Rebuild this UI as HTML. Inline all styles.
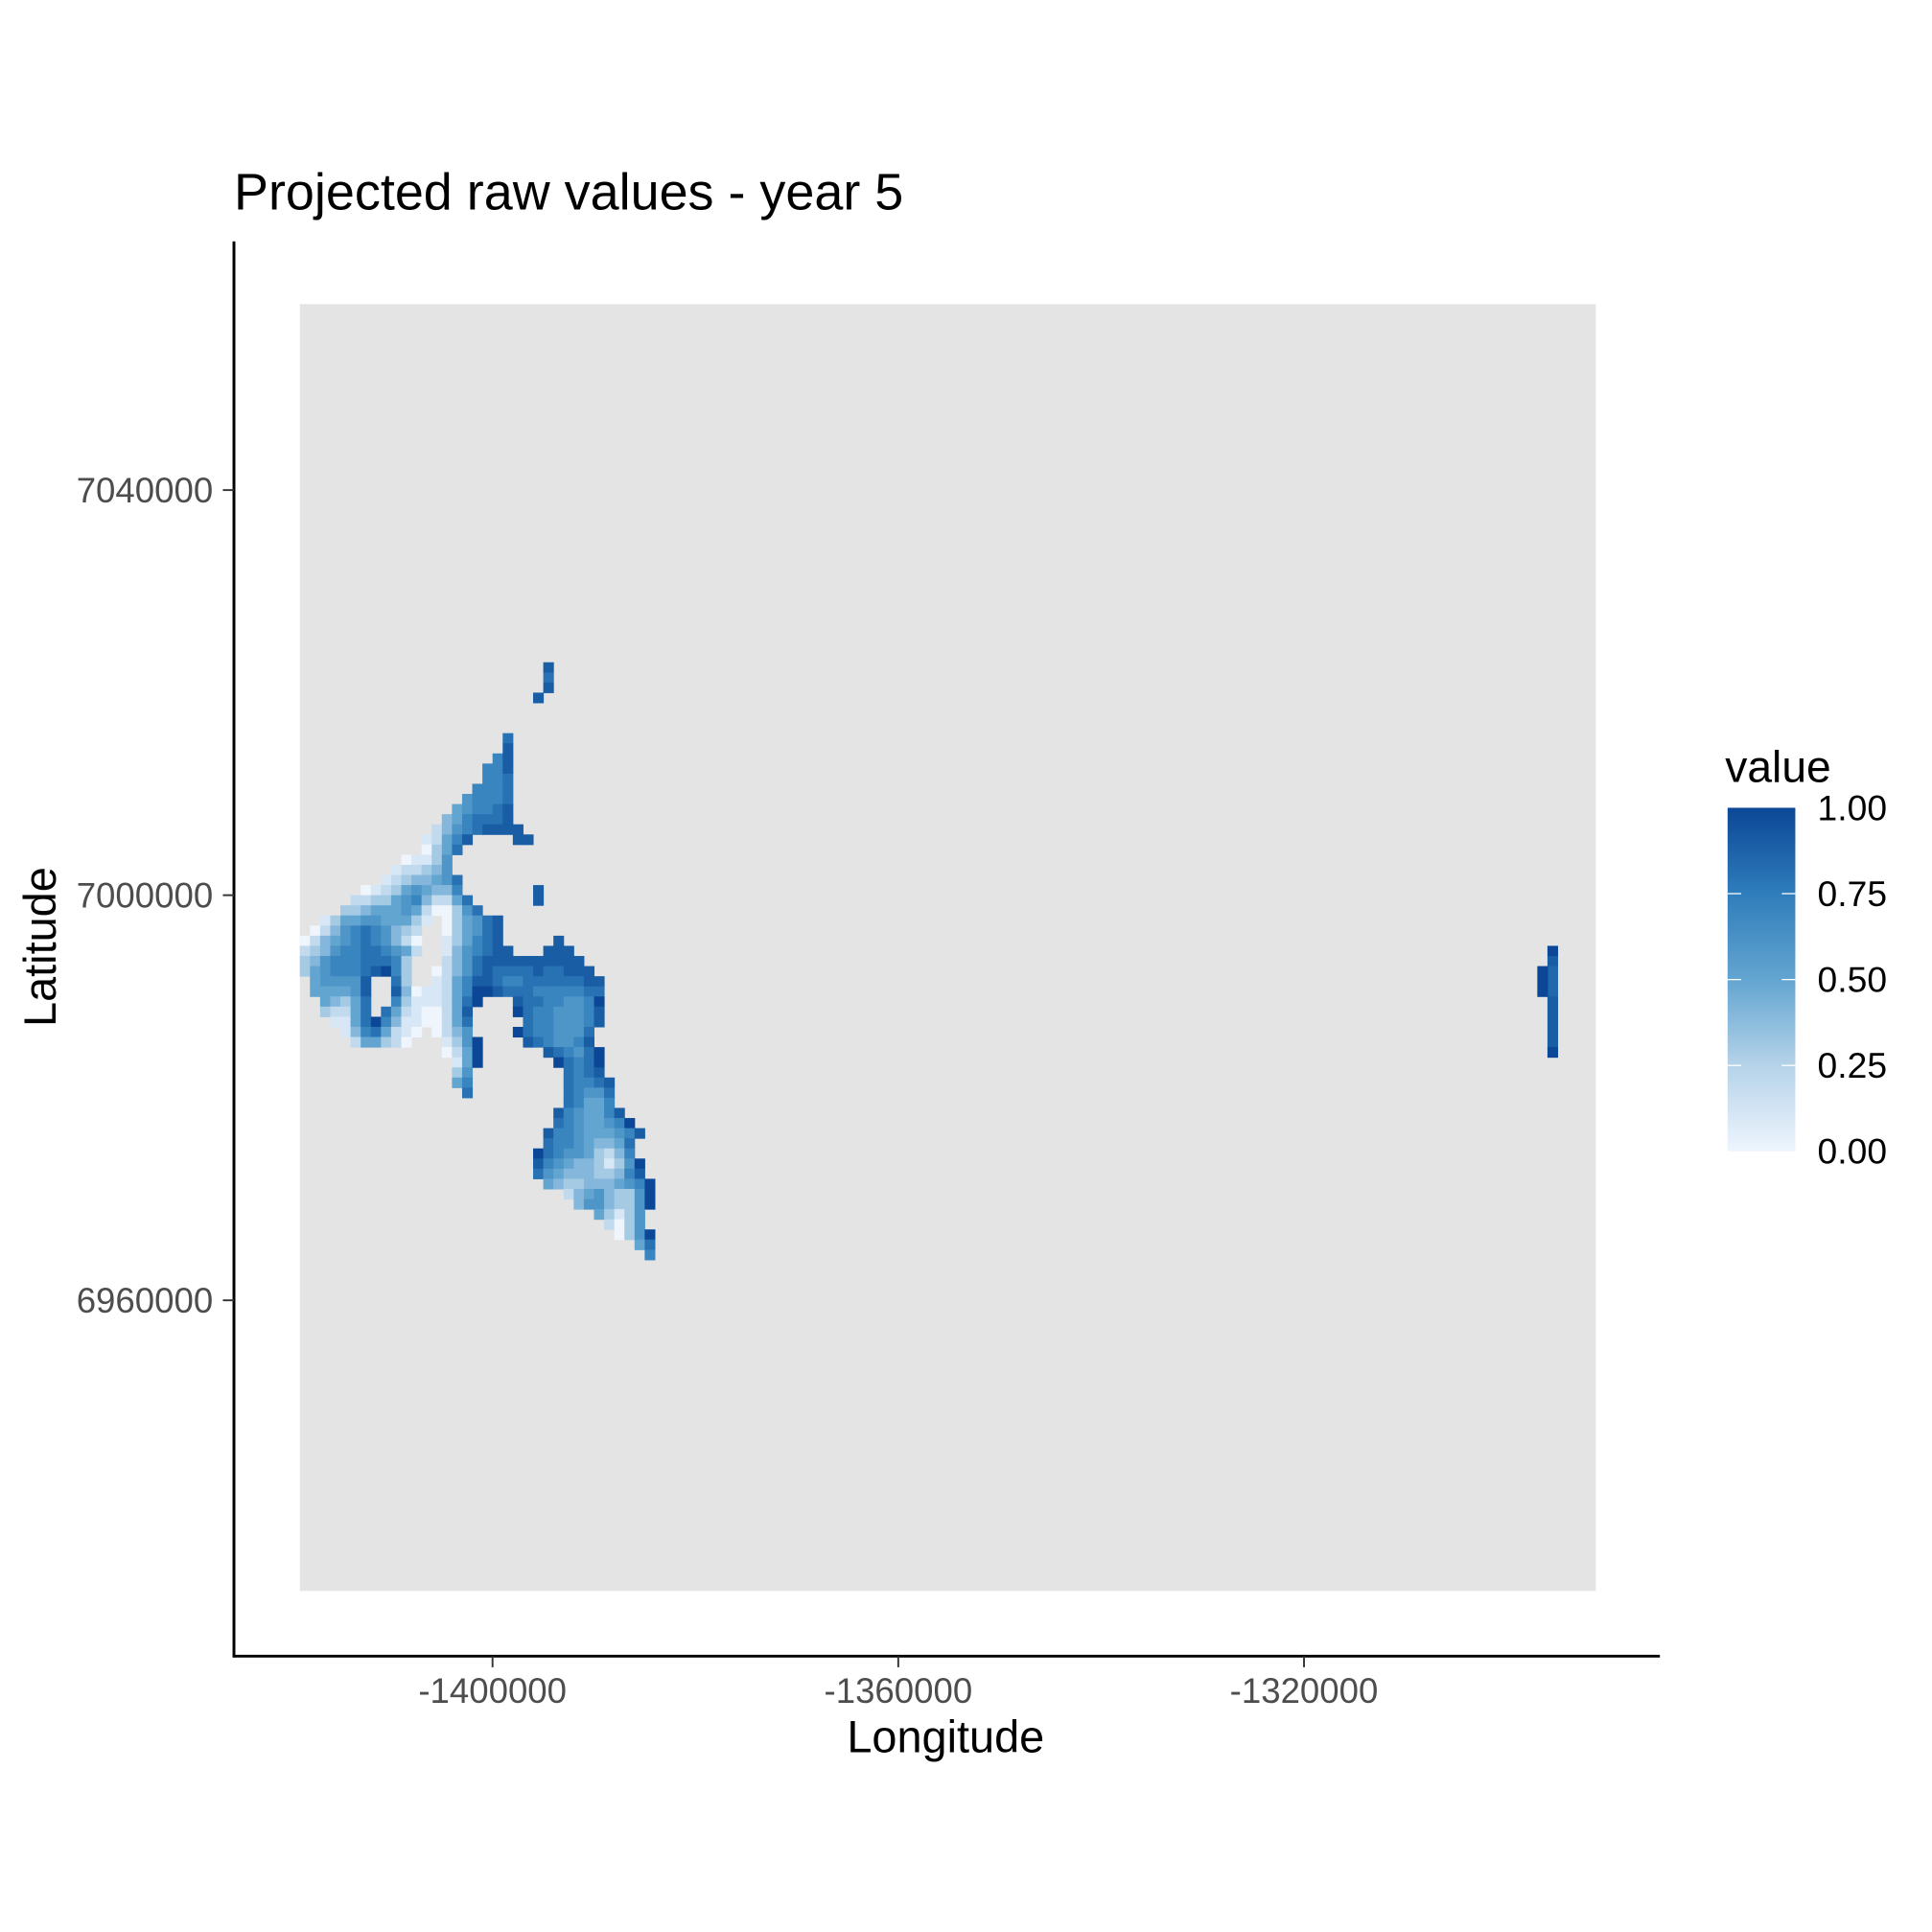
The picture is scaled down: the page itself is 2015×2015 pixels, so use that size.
<!DOCTYPE html>
<html><head><meta charset="utf-8"><style>
html,body{margin:0;padding:0;background:#fff}
svg{display:block}
text{font-family:"Liberation Sans",Arial,sans-serif}
</style></head><body>
<svg id="chart" width="2015" height="2015" viewBox="0 0 1569 1569" xmlns="http://www.w3.org/2000/svg">
<rect x="0" y="0" width="1569" height="1569" fill="#fff"/>
<text x="190" y="170" font-size="42" fill="#000">Projected raw values - year 5</text>
<rect x="243.5" y="247" width="1052.5" height="1045" fill="#e4e4e4"/>
<g id="cells"></g>
<g id="axes"></g>
<text x="768" y="1423" font-size="36.5" text-anchor="middle" fill="#000">Longitude</text>
<text transform="translate(45,769) rotate(-90)" font-size="36.5" text-anchor="middle" fill="#000">Latitude</text>
<defs><linearGradient id="lg" x1="0" y1="1" x2="0" y2="0">
<stop offset="0" stop-color="#EFF5FD"/><stop offset="0.25" stop-color="#B5D3E9"/><stop offset="0.5" stop-color="#63A5D1"/><stop offset="0.75" stop-color="#2F7DBB"/><stop offset="1" stop-color="#0B4796"/>
</linearGradient></defs>
<text x="1401" y="635" font-size="36" fill="#000">value</text>
<rect x="1403" y="656" width="55" height="279" fill="url(#lg)"/>
<g id="legend"></g>
</svg>
<script>
const xTicks = [-1400000, -1360000, -1320000];
const yTicks = [7040000, 7000000, 6960000];
const legendTicks = [0, 0.25, 0.5, 0.75, 1];
const gridX0 = -1419000;
const gridY0 = 7023000;
const cellSize = 1000;
const gridRows = [
"........................9","........................8","........................9",".......................9","","","",
"....................8","....................9","...................79","..................779","..................778",
".................7778","................67778","...............567789","..............4578889",
".............246789999","............12579....99","............0358","..........01136",".........122346",
"........12344568","......0123565447.......9",".....223356742258......9","....33455565200368",
"..13556655531.035689",".02467876432..035689","024567876420..135789.....9","234677887652..1467899...999",
"34677788873...24689999999999","35677789A73..0246898888988999",".566669..83..12579987788888899",
".555569..94011257AA98887777788","..54358..73111258A...98877667A","..32258.852100259....A87766679",
"...1158A741100258.....87766679","....14785210.0246....A8776668",".....255320...136A....9876679",
"..............025A......98768A","...............15A.......A878A","...............36.........8789",
"...............57.........87789","................8.........87668","..........................87557",
".........................9765579",".........................8765567A","........................9776555679",
"........................877654458",".......................A876653247",".......................9765443136A",
".......................86544433479","........................5433444567A","..........................24564336A",
"...........................4664336A",".............................53136","..............................2036",
"...............................036A",".................................58","..................................7"
];
const extraCols = [123,123,123,123,123,123,123,123,123,123,123,122,122,122];
const extraRows = [28,29,30,31,32,33,34,35,36,37,38,30,31,32];
const extraVals = [1.0,0.9,0.85,0.85,0.85,0.9,0.9,0.9,0.9,0.9,1.0,1.0,1.0,1.0];

const NS="http://www.w3.org/2000/svg";
const xS = v => 400 + (v + 1400000) * 0.0082375;
const yS = v => 727 - (v - 7000000) * 0.008225;
const stops=[[0,[239,245,253]],[0.25,[181,211,233]],[0.5,[99,165,209]],[0.75,[47,125,187]],[1,[11,71,150]]];
function col(v){v=Math.max(0,Math.min(1,v));for(let i=1;i<stops.length;i++){if(v<=stops[i][0]){const a=stops[i-1],b=stops[i],t=(v-a[0])/(b[0]-a[0]);return 'rgb('+a[1].map((c,k)=>Math.round(c+(b[1][k]-c)*t)).join(',')+')';}}return 'rgb(11,71,150)';}
const cellsG=document.getElementById('cells');
function addCell(c,r,v){
  const x1=xS(gridX0+c*cellSize), x2=xS(gridX0+(c+1)*cellSize);
  const y1=yS(gridY0-r*cellSize), y2=yS(gridY0-(r+1)*cellSize);
  const el=document.createElementNS(NS,'rect');
  el.setAttribute('x',x1);el.setAttribute('y',y1);
  el.setAttribute('width',x2-x1+0.4);el.setAttribute('height',y2-y1+0.4);
  el.setAttribute('fill',col(v));
  
  
  cellsG.appendChild(el);
}
gridRows.forEach((s,r)=>{for(let c=0;c<s.length;c++){const ch=s[c];if(ch==='.')continue;const v=ch==='A'?1:parseInt(ch,10)/10;addCell(c,r,v);}});
extraCols.forEach((c,i)=>addCell(c,extraRows[i],extraVals[i]));

const ax=document.getElementById('axes');
function line(x1,y1,x2,y2,w,color,name){const l=document.createElementNS(NS,'line');l.setAttribute('x1',x1);l.setAttribute('y1',y1);l.setAttribute('x2',x2);l.setAttribute('y2',y2);l.setAttribute('stroke',color);l.setAttribute('stroke-width',w);


ax.appendChild(l);}
function txt(x,y,s,anchor,size,color,name,parent){const t=document.createElementNS(NS,'text');t.setAttribute('x',x);t.setAttribute('y',y);t.setAttribute('text-anchor',anchor);t.setAttribute('font-size',size);t.setAttribute('fill',color);t.textContent=s;


(parent||ax).appendChild(t);}
line(190,196,190,1346,2.3,'#000','y-axis-line');
line(189,1345,1348,1345,2.3,'#000','x-axis-line');
xTicks.forEach(v=>{const x=xS(v);line(x,1345,x,1354,1.5,'#333','x-tick');txt(x,1383,String(v),'middle',28.5,'#4d4d4d','x-tick-label');});
yTicks.forEach(v=>{const y=yS(v);line(181,y,190,y,1.5,'#333','y-tick');txt(173,y+10,String(v),'end',28.5,'#4d4d4d','y-tick-label');});
const lg=document.getElementById('legend');
legendTicks.forEach(v=>{const y=935-v*279;
  if(v>0&&v<1){[[1403,1414],[1447,1458]].forEach(p=>{const l=document.createElementNS(NS,'line');l.setAttribute('x1',p[0]);l.setAttribute('x2',p[1]);l.setAttribute('y1',y);l.setAttribute('y2',y);l.setAttribute('stroke','#fff');l.setAttribute('stroke-width',1);
  
  
  lg.appendChild(l);});}
  txt(1476,y+10,v.toFixed(2),'start',29,'#000','legend-label',lg);});
</script>
</body></html>
